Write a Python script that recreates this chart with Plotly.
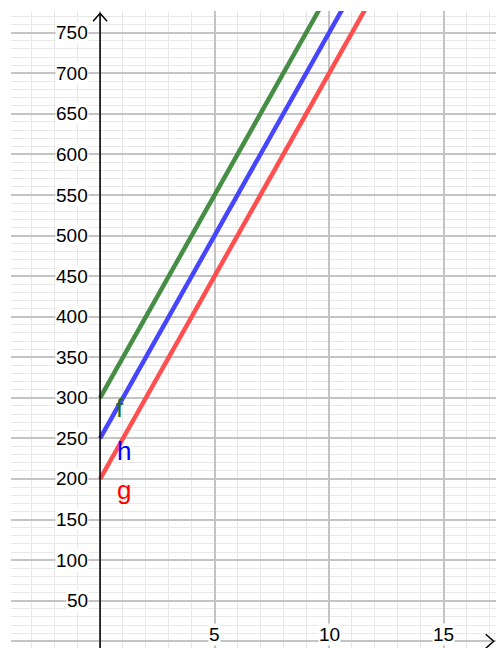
import plotly.graph_objects as go

# ---- data ----
f_x = [0, 10]
f_y = [300, 800]
h_x = [0, 11]
h_y = [250, 800]
g_x = [0, 12]
g_y = [200, 800]

x_tick_vals = [5, 10, 15]
x_tick_text = ["5", "10", "15"]
y_tick_vals = [50, 100, 150, 200, 250, 300, 350, 400, 450, 500, 550, 600, 650, 700, 750]
y_tick_text = [str(v) for v in y_tick_vals]

label_names = ["f", "h", "g"]
label_x = [0.85, 1.05, 1.05]
label_y = [287, 235, 186]

X_RANGE = [-3.89, 17.29]
Y_RANGE = [-8.3, 776.8]

FONT = "Liberation Sans, Arial, Helvetica, sans-serif"

fig = go.Figure()

line_colors = ["rgba(60,135,60,0.95)", "rgba(60,60,255,0.95)", "rgba(255,70,70,0.95)"]
for xs, ys, c in zip([f_x, h_x, g_x], [f_y, h_y, g_y], line_colors):
    fig.add_trace(go.Scatter(x=xs, y=ys, mode="lines", line=dict(color=c, width=4.5),
                             hoverinfo="skip", showlegend=False))

shapes = []
# axes
shapes.append(dict(type="line", xref="x", yref="y", x0=0, x1=0, y0=Y_RANGE[0], y1=774,
                   line=dict(color="black", width=1.5), layer="above"))
shapes.append(dict(type="line", xref="x", yref="y", x0=X_RANGE[0], x1=X_RANGE[1], y0=0, y1=0,
                   line=dict(color="black", width=1.5), layer="below"))
# arrowheads
shapes.append(dict(type="path", xref="x", yref="y", xsizemode="pixel", ysizemode="pixel",
                   xanchor=0, yanchor=774, path="M -7,-8 L 0,0 L 7,-8",
                   line=dict(color="black", width=1.5), layer="above"))
shapes.append(dict(type="path", xref="x", yref="y", xsizemode="pixel", ysizemode="pixel",
                   xanchor=X_RANGE[1] - 0.1, yanchor=0, path="M -8,-7 L 0,0 L -8,7",
                   line=dict(color="black", width=1.5), layer="above"))

annotations = []
for v, t in zip(y_tick_vals, y_tick_text):
    annotations.append(dict(x=0, y=v, xref="x", yref="y", text=t, showarrow=False,
                            xanchor="right", yanchor="middle", xshift=-11,
                            font=dict(family=FONT, size=19, color="black"),
                            bgcolor="white", borderpad=0))
for v, t in zip(x_tick_vals, x_tick_text):
    annotations.append(dict(x=v, y=0, xref="x", yref="y", text=t, showarrow=False,
                            xanchor="center", yanchor="bottom", yshift=-5,
                            font=dict(family=FONT, size=19, color="black"),
                            bgcolor="white", borderpad=0))
label_colors = ["#1f6f1f", "#0000ff", "#ff0000"]
for n, lx, ly, c in zip(label_names, label_x, label_y, label_colors):
    annotations.append(dict(x=lx, y=ly, xref="x", yref="y", text=n, showarrow=False,
                            xanchor="center", yanchor="middle",
                            font=dict(family=FONT, size=26, color=c)))

fig.update_layout(
    width=496, height=648,
    margin=dict(l=11, r=0, t=11, b=0),
    paper_bgcolor="white", plot_bgcolor="white",
    shapes=shapes, annotations=annotations,
    xaxis=dict(range=X_RANGE, dtick=5, tick0=0, showgrid=True, gridcolor="#c4c4c4", gridwidth=1.5,
               showticklabels=False, zeroline=False, ticks="", showline=False,
               minor=dict(dtick=1, tick0=0, showgrid=True, gridcolor="#e8e8e8", gridwidth=1)),
    yaxis=dict(range=Y_RANGE, dtick=50, tick0=0, showgrid=True, gridcolor="#c4c4c4", gridwidth=1.5,
               showticklabels=False, zeroline=False, ticks="", showline=False,
               minor=dict(dtick=10, tick0=0, showgrid=True, gridcolor="#e8e8e8", gridwidth=1)),
)

fig.write_html("out.html", config={"displayModeBar": False},
               post_script="document.body.style.margin='0px';document.body.style.overflow='hidden';")
